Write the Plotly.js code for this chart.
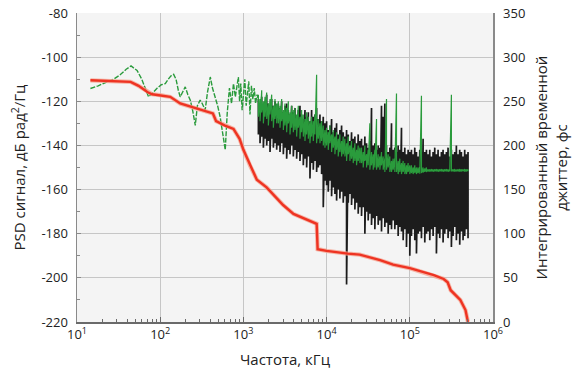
<!DOCTYPE html>
<html><head><meta charset="utf-8">
<script src="https://cdn.plot.ly/plotly-3.0.1.min.js"></script>
<style>html,body{margin:0;padding:0;background:#fff}#c{width:576px;height:376px}</style>
</head><body><div id="c"></div>
<script>
// ---- data ----
// green PSD, low-frequency part (Hz, dB rad^2/Hz)
const fGreenLow = [14.5,18,22,27.6,33,39,44.6,52.7,60,66,72.5,80,91,103,115,125,135,145,155,165,174,185,200,215,230,245,264,280,302,320,347,370,400,425,457,490,525,560,605,640,680,720,760,800,835,870,900,930,965,1000,1040,1080,1120,1160,1200,1250,1300,1350,1400,1460,1514];
const greenLow = [-114.2,-113,-111.5,-110,-108,-105.5,-104,-106,-110,-114,-118,-116.5,-114.2,-112.5,-112,-110,-108.5,-107.8,-110,-115,-118,-116,-113.5,-117,-119.5,-124,-130.9,-122,-119.5,-121,-124,-116,-109,-114,-118,-122,-127,-133,-142,-125,-114,-121,-112,-118,-113,-109,-120,-112,-124,-115,-110,-122,-117,-111,-126,-113,-119,-114,-121,-117,-119];

// frequency bins shared by the black PSD and the high-frequency green PSD
const fBins = [1514,1585,1660,1738,1820,1905,1995,2089,2188,2291,2399,2512,2630,2754,2884,3020,3162,3311,3467,3631,3802,3981,4169,4365,4571,4786,5012,5248,5495,5754,6026,6310,6607,6918,7244,7586,7943,8318,8710,9120,9550,10000,10470,10960,11480,12020,12590,13180,13800,14450,15140,15850,16600,17380,18200,19050,19950,20890,21880,22910,23990,25120,26300,27540,28840,30200,31620,33110,34670,36310,38020,39810,41690,43650,45710,47860,50120,52480,54950,57540,60260,63100,66070,69180,72440,75860,79430,83180,87100,91200,95500,100000,104700,109600,114800,120200,125900,131800,138000,144500,151400,158500,166000,173800,182000,190500,199500,208900,218800,229100,239900,251200,263000,275400,288400,302000,316200,331100,346700,363100,380200,398100,416900,436500,457100,478600,501200];

// black PSD: upper and lower excursion in each bin
const blackHi = [-119,-121,-118,-122,-120,-117,-121,-123,-119,-122,-120,-124,
 -121,-123,-120,-125,-122,-121,-124,-126,-122,-125,
 -123,-127,-124,-122,-126,-128,-124,-127,-125,-129,
 -124,-127,-126,-123,-128,-126,-129,-127,-130,
 -129,-133,-131,-128,-134,-132,-130,-135,-133,-131,-134,
 -136,-133,-135,-138,-134,-137,-136,-139,-135,-138,
 -137,-140,-136,-139,-141,-138,-123,-140,-139,-142,
 -140,-141,-122,-127,-121,-140,-143,-141,-130,-142,
 -141,-143,-140,-142,-132,-143,-141,-144,-142,-143,
 -142,-144,-141,-143,-145,-142,-144,-137,-143,-142,
 -144,-142,-145,-143,-141,-144,-142,-145,-143,-142,
 -144,-143,-141,-145,-142,-144,-143,-140,-144,-142,
 -143,-145,-142,-144,-143];
const blackLo = [-135,-139,-136,-141,-137,-140,-138,-143,-137,-141,-139,-142,
 -140,-143,-139,-144,-141,-146,-142,-144,-140,-145,
 -142,-146,-143,-147,-144,-149,-146,-150,-145,-155,
 -148,-151,-147,-152,-150,-149,-153,-168,-156,
 -158,-161,-156,-163,-159,-162,-165,-160,-164,-161,-166,
 -163,-203,-166,-162,-167,-164,-169,-166,-171,-168,
 -172,-168,-180,-170,-174,-171,-176,-173,-178,-172,
 -176,-174,-179,-173,-177,-175,-180,-176,-178,-174,
 -178,-176,-181,-177,-179,-183,-178,-186,-180,-190,
 -181,-178,-183,-189,-180,-179,-182,-177,-184,-180,
 -179,-183,-178,-181,-177,-189,-180,-182,-178,-184,
 -180,-178,-182,-179,-186,-181,-177,-183,-180,-185,
 -179,-183,-181,-178,-182];

// green PSD, high-frequency part: upper and lower excursion in each bin
const greenHi = [-117,-119,-115,-120,-118,-116,-121,-119,-117,-122,-119,-121,
 -120,-122,-119,-124,-121,-123,-120,-125,-122,-124,
 -123,-126,-122,-127,-124,-126,-128,-125,-127,-129,
 -127,-129,-126,-108,-128,-130,-129,-131,-133,
 -132,-134,-131,-135,-133,-136,-134,-137,-135,-138,-136,
 -137,-139,-136,-140,-138,-141,-139,-142,-140,-141,
 -141,-143,-140,-144,-142,-130,-143,-144,-142,-128,
 -144,-145,-143,-145,-146,-119,-144,-145,-147,-146,
 -146,-116.5,-147,-146,-148,-147,-148,-149,-148,-149,
 -149,-150,-149,-150,-150,-150,-117.5,-150,-150.5,-150,
 -150.8,-150.9,-150.7,-150.9,-150.8,-150.7,-150.9,-150.8,-150.7,-150.9,
 -150.8,-150.7,-150.9,-150.8,-117,-150.8,-150.7,-150.9,-150.8,-150.7,
 -150.8,-150.9,-150.7,-150.8,-150.9];
const greenLo = [-127,-129,-125,-130,-127,-128,-131,-126,-129,-132,-128,-130,
 -130,-132,-129,-133,-131,-134,-130,-135,-132,-134,
 -133,-136,-132,-137,-134,-136,-138,-135,-137,-139,
 -136,-138,-135,-139,-137,-139,-138,-140,-141,
 -140,-142,-139,-143,-141,-144,-142,-145,-143,-145,-144,
 -145,-147,-144,-147,-146,-148,-147,-149,-147,-148,
 -148,-150,-147,-150,-149,-151,-149,-151,-150,-151,
 -150,-151,-149,-151,-152,-151,-150,-152,-152,-151,
 -152,-152,-153,-152,-153,-152,-153,-153,-152,-153,
 -152.5,-153,-152.5,-153,-152.5,-152.8,-152.5,-152.3,-152,-152,
 -151.8,-151.9,-151.7,-151.9,-151.8,-151.7,-151.9,-151.8,-151.7,-151.9,
 -151.8,-151.7,-151.9,-151.8,-151.7,-151.8,-151.9,-151.7,-151.8,-151.9,
 -151.8,-151.7,-151.9,-151.8,-151.7];

// integrated timing jitter (fs), right axis
const fJitter = [14.5,20,30,44,55,70,80,100,132,174,276,360,430,470,600,760,900,1000,1200,1450,1900,2500,3000,4000,5000,7300,7600,7800,10000,18000,25000,44000,63000,100000,195000,255000,285000,310000,405000,467000,500000];
const jitter = [273.75,273,272.5,272,267.5,260.5,258,257,255,247.5,241.75,238.75,236.25,227.5,222.5,218.75,207.5,195,177.5,161.25,152.5,140,132.5,122.5,118.75,112.5,111.25,82.5,80.5,77.5,76.25,70,65,61,53,48.75,45,36,25,13.5,0];

// tick labels
const xTickVals = [10,100,1000,10000,100000,1000000];
const xTickText = ['10<sup>1</sup>','10<sup>2</sup>','10<sup>3</sup>','10<sup>4</sup>','10<sup>5</sup>','10<sup>6</sup>'];
const yTickVals = [-220,-200,-180,-160,-140,-120,-100,-80];
const yTickText = ['-220','-200','-180','-160','-140','-120','-100','-80'];

// ---- build ----
function zig(f, hi, lo){
  const x=[], y=[];
  for(let i=0;i<f.length;i++){ x.push(f[i], f[i]); y.push(hi[i], lo[i]); }
  return {x, y};
}
const bz = zig(fBins, blackHi, blackLo);
const gz = zig(fBins, greenHi, greenLo);

const minorX = [];
for(let k=1;k<6;k++) for(let m=2;m<=9;m++) minorX.push(m*Math.pow(10,k));
const minorY = [];
for(let v=-210; v<-80; v+=20) minorY.push(v);

const GREEN = '#2a9b3c';
const traces = [
  {x: bz.x, y: bz.y, type:'scatter', mode:'lines', line:{color:'#1c1c1c', width:1.7}, hoverinfo:'skip'},
  {x: fGreenLow, y: greenLow, type:'scatter', mode:'lines', line:{color:GREEN, width:1.4, dash:'5px,1.5px'}, hoverinfo:'skip'},
  {x: gz.x, y: gz.y, type:'scatter', mode:'lines', line:{color:GREEN, width:1.2}, hoverinfo:'skip'},
  {x: fJitter, y: jitter, yaxis:'y2', type:'scatter', mode:'lines', line:{color:'rgba(245,160,140,0.75)', width:4.2}, hoverinfo:'skip'},
  {x: fJitter, y: jitter, yaxis:'y2', type:'scatter', mode:'lines', line:{color:'#ee3322', width:2.4}, hoverinfo:'skip'}
];

const FONT = 'Open Sans, Noto Sans, sans-serif';
const layout = {
  width:576, height:376,
  margin:{l:77, r:83, t:13, b:54},
  paper_bgcolor:'#ffffff', plot_bgcolor:'#f4f4f4',
  showlegend:false,
  font:{family:FONT, size:13, color:'#222'},
  xaxis:{
    type:'log', range:[1,6], tickmode:'array', tickvals:xTickVals, ticktext:xTickText,
    showgrid:true, gridcolor:'#c6c6c6', gridwidth:1,
    showline:true, linecolor:'#6a6a6a', linewidth:1.5,
    ticks:'inside', ticklen:5, tickcolor:'#6a6a6a',
    minor:{tickmode:'array', tickvals:minorX, ticks:'inside', ticklen:3, tickcolor:'#6a6a6a', showgrid:false},
    zeroline:false,
    tickfont:{size:13, family:FONT, color:'#222'},
    title:{text:'Частота, кГц', font:{size:15, family:FONT, color:'#222'}, standoff:12}
  },
  yaxis:{
    range:[-220,-80], tickmode:'array', tickvals:yTickVals, ticktext:yTickText,
    showgrid:true, gridcolor:'#c6c6c6', gridwidth:1,
    showline:true, linecolor:'#8a8a8a', linewidth:1.5,
    ticks:'inside', ticklen:4, tickcolor:'#8a8a8a',
    minor:{tickmode:'array', tickvals:minorY, ticks:'inside', ticklen:3, tickcolor:'#8a8a8a', showgrid:false},
    zeroline:false, ticklabelstandoff:5,
    tickfont:{size:13, family:FONT, color:'#222'},
    title:{text:'PSD сигнал, дБ рад<sup>2</sup>/Гц', font:{size:15, family:FONT, color:'#222'}, standoff:12}
  },
  yaxis2:{
    overlaying:'y', side:'right', range:[0,350], dtick:50,
    showgrid:false, showline:true, linecolor:'#8a8a8a', linewidth:1.5,
    ticks:'', zeroline:false, ticklabelstandoff:6,
    tickfont:{size:13, family:FONT, color:'#222'},
    title:{text:'Интегрированный временной<br>джиттер, фс', font:{size:15, family:FONT, color:'#222'}, standoff:12}
  }
};
Plotly.newPlot('c', traces, layout, {staticPlot:true, displayModeBar:false});
</script>
</body></html>
